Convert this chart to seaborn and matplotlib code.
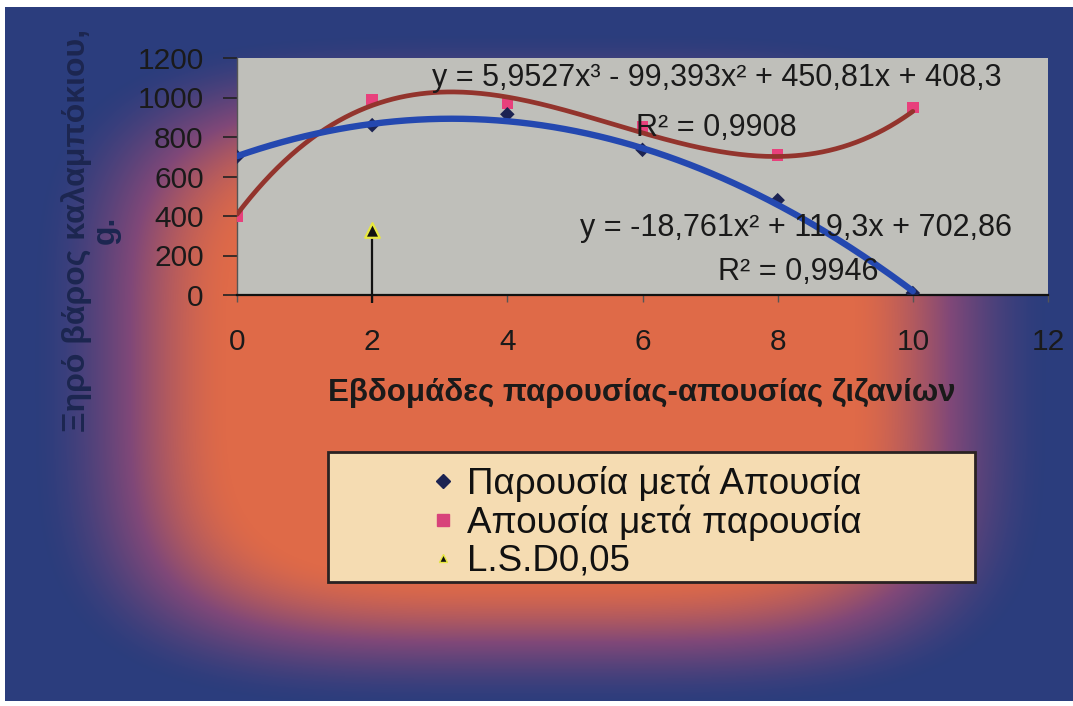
import numpy as np
import matplotlib
matplotlib.use("Agg")
import matplotlib.pyplot as plt
import seaborn as sns
from matplotlib.lines import Line2D
from matplotlib.patches import Rectangle
from matplotlib.colors import LinearSegmentedColormap

# ---- data -------------------------------------------------------------
weeks = [0, 2, 4, 6, 8, 10]
presence_then_absence = [700, 860, 915, 735, 480, 10]
absence_then_presence = [400, 990, 970, 850, 710, 950]
lsd_week = [2]
lsd_value = [330]

# trendline coefficients (highest power first) and their R² values
quad_coef = [-18.761, 119.3, 702.86]
cubic_coef = [5.9527, -99.393, 450.81, 408.3]
quad_r2 = 0.9946
cubic_r2 = 0.9908

series_names = ["Παρουσία μετά Απουσία", "Απουσία μετά παρουσία", "L.S.D0,05"]
x_ticks = [0, 2, 4, 6, 8, 10, 12]
y_ticks = [0, 200, 400, 600, 800, 1000, 1200]
x_label = "Εβδομάδες παρουσίας-απουσίας ζιζανίων"
y_label = "Ξηρό βάρος καλαμπόκιου,\ng."

# ---- style ------------------------------------------------------------
sns.set_theme(style="white")
plt.rcParams["font.family"] = ["Liberation Sans", "DejaVu Sans"]

W, H = 1073, 706
fig = plt.figure(figsize=(W / 100, H / 100), dpi=100)
fig.patch.set_facecolor("white")


def fx(px):
    return px / W


def fy(py):
    return 1 - py / H


# ---- gradient backdrop --------------------------------------------------
left, top, right, bottom = 5, 7, W, 701
yy, xx = np.mgrid[top:bottom, left:right].astype(float)
cx, cy, rx, ry = 540, 370, 410, 272
d = (np.abs((xx - cx) / rx) ** 4 + np.abs((yy - cy) / ry) ** 4) ** 0.25
t = np.clip((d - 0.75) / 0.5, 0, 1)
t = t * t * (3 - 2 * t)
grad_cmap = LinearSegmentedColormap.from_list(
    "glow", [(0.0, "#df6a48"), (0.5, "#804878"), (1.0, "#2b3d7d")]
)
bg = fig.add_axes([fx(left), fy(bottom), fx(right - left), (bottom - top) / H])
bg.imshow(t, cmap=grad_cmap, vmin=0, vmax=1, aspect="auto", interpolation="bilinear")
bg.set_axis_off()

# ---- main plot area -----------------------------------------------------
ax_l, ax_r, ax_t, ax_b = 237, 1048, 58, 295
ax = fig.add_axes([fx(ax_l), fy(ax_b), fx(ax_r - ax_l), (ax_b - ax_t) / H])
ax.set_facecolor("#bfbfba")
ax.set_xlim(0, 12)
ax.set_ylim(0, 1200)

# data markers
sns.scatterplot(x=weeks, y=absence_then_presence, ax=ax, marker="s", s=70,
                color="#e8407c", edgecolor="none", zorder=3, legend=False)
sns.scatterplot(x=weeks, y=presence_then_absence, ax=ax, marker="D", s=55,
                color="#1c2352", edgecolor="none", zorder=3, legend=False)

# trendlines drawn from the stated equations
xs = np.linspace(0, 10, 300)
sns.lineplot(x=xs, y=np.polyval(cubic_coef, xs), ax=ax, color="#93342d",
             linewidth=3.4, zorder=4)
sns.lineplot(x=xs, y=np.polyval(quad_coef, xs), ax=ax, color="#2448b0",
             linewidth=4.6, zorder=4)

# L.S.D. marker with its drop line
ax.vlines(lsd_week, -40, lsd_value, color="#111111", linewidth=1.6,
          zorder=5, clip_on=False)
sns.scatterplot(x=lsd_week, y=lsd_value, ax=ax, marker="^", s=110,
                color="#111111", edgecolor="#e8e840", linewidth=1.6,
                zorder=6, legend=False)

# axes styling
for side in ["top", "right"]:
    ax.spines[side].set_visible(False)
ax.spines["bottom"].set_color("#111111")
ax.spines["bottom"].set_linewidth(1.6)
ax.spines["left"].set_color("#555555")
ax.spines["left"].set_linewidth(1.0)

ax.set_xticks(x_ticks)
ax.set_yticks(y_ticks)
ax.tick_params(axis="y", direction="out", length=10, width=1.2, color="#222222",
               pad=14, labelsize=21.5, labelcolor="#1a1a1a", left=True)
ax.tick_params(axis="x", direction="out", length=5, width=1.0, color="#555555",
               pad=19, labelsize=21.5, labelcolor="#1a1a1a", bottom=True)
ax.set_xlabel("")
ax.set_ylabel("")


def fmt(v, nd):
    return f"{v:.{nd}f}".replace(".", ",")


eq_cubic = (f"y = {fmt(cubic_coef[0], 4)}x³ - {fmt(-cubic_coef[1], 3)}x² + "
            f"{fmt(cubic_coef[2], 2)}x + {fmt(cubic_coef[3], 1)}")
eq_quad = (f"y = {fmt(quad_coef[0], 3)}x² + {fmt(quad_coef[1], 1)}x + "
           f"{fmt(quad_coef[2], 2)}")

txt_kw = dict(fontsize=22, color="#1a1a1a", ha="left", va="center", zorder=10)
fig.text(fx(432), fy(78), eq_cubic, **txt_kw)
fig.text(fx(636), fy(128), f"R² = {fmt(cubic_r2, 4)}", **txt_kw)
fig.text(fx(580), fy(228), eq_quad, **txt_kw)
fig.text(fx(718), fy(272), f"R² = {fmt(quad_r2, 4)}", **txt_kw)

# axis titles
fig.text(fx(642), fy(393), x_label, fontsize=22.5, fontweight="bold",
         color="#1a1a1a", ha="center", va="center")
fig.text(fx(91), fy(230), y_label, fontsize=23, fontweight="bold",
         color="#1c2650", ha="center", va="center", rotation=90,
         multialignment="center", linespacing=0.95)

# ---- legend -------------------------------------------------------------
fig.patches.append(Rectangle((fx(328), fy(582)), fx(975 - 328), (582 - 452) / H,
                             transform=fig.transFigure, facecolor="#f5dcb2",
                             edgecolor="#2a2222", linewidth=2.0, zorder=1))
handles = [
    Line2D([], [], linestyle="none", marker="D", markersize=7,
           color="#1c2352"),
    Line2D([], [], linestyle="none", marker="s", markersize=8,
           color="#d8437a"),
    Line2D([], [], linestyle="none", marker="^", markersize=6,
           markerfacecolor="#111111", markeredgecolor="#e8e840"),
]
fig.legend(handles, series_names, loc="center left",
           bbox_to_anchor=(fx(432), fy(522)), frameon=False, fontsize=26.5,
           handlelength=0.6, handletextpad=0.35, labelspacing=0.08,
           borderpad=0, borderaxespad=0, labelcolor="#111111")

fig.savefig("out.png", dpi=100, facecolor=fig.get_facecolor())
